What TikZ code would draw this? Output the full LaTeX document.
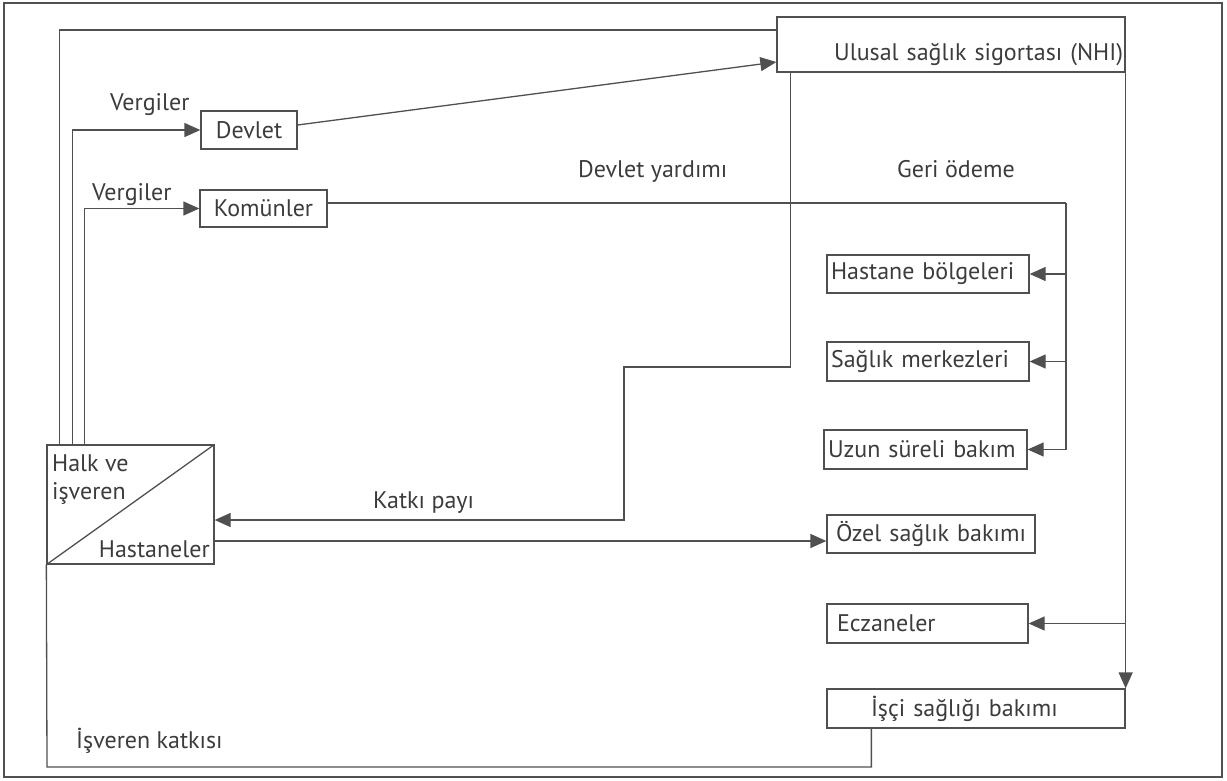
\documentclass[tikz,border=0pt]{standalone}
\usepackage{fontspec}
\setmainfont{PT Sans}
\usetikzlibrary{arrows.meta}
\definecolor{linec}{HTML}{505050}
\definecolor{textc}{HTML}{3C3C3C}
\newcommand{\dfont}{\fontsize{24}{28}\selectfont}
\begin{document}
\begin{tikzpicture}[x=1pt,y=-1pt,
  conn/.style={draw=linec, line width=1.3pt},
  arr/.style={conn, -{Triangle[length=16pt,width=14pt]}},
  box/.style={draw=linec, line width=1.3pt, inner sep=0pt, text=textc, font=\dfont, minimum height=38pt},
  lbl/.style={inner sep=0pt, text=textc, font=\dfont}]
\useasboundingbox (0,0) rectangle (1227,780);
\draw[conn] (4,3) rectangle (1222,777);

% boxes
\node[box, minimum width=348pt, minimum height=55pt, text width=344pt, inner xsep=2pt, align=right, text height=36pt, text depth=4pt] (nhi) at (951,44.5) {Ulusal sağlık sigortası (NHI)};
\node[box, minimum width=96pt] (devlet) at (249,130) {Devlet};
\node[box, minimum width=127pt, minimum height=37pt] (komun) at (263.5,208.5) {Komünler};
\node[box, text width=194pt, inner xsep=4pt, align=left] (hast) at (928,274) {\mbox{Hastane bölgeleri}};
\node[box, text width=194pt, inner xsep=4pt, align=left, minimum height=39pt] (sag) at (928,361.5) {\mbox{Sağlık merkezleri}};
\node[box, text width=195pt, inner xsep=4pt, align=left, minimum height=39pt] (uzun) at (925.5,449.5) {\mbox{Uzun süreli bakım}};
\node[box, text width=190pt, inner xsep=9pt, align=left] (ozel) at (931,534) {\mbox{Özel sağlık bakımı}};
\node[box, text width=181pt, inner xsep=10pt, align=left, minimum height=39pt] (ecz) at (927.5,623.5) {\mbox{Eczaneler}};
\node[box, text width=210pt, inner xsep=44pt, align=left, minimum height=39pt] (isci) at (976,708.5) {\mbox{İşçi sağlığı bakımı}};
\node[box, minimum width=167pt, minimum height=119pt] (halk) at (130.5,504.5) {};
\draw[conn] (halk.south west) -- (halk.north east);
\node[lbl, anchor=north west, align=left] (halktxt) at (52,454) {Halk ve\\işveren};
\node[lbl, anchor=base east] (hastxt) at (210,557) {Hastaneler};

% labels
\node[lbl, anchor=base west] (v1) at (110,110) {Vergiler};
\node[lbl, anchor=base west] (v2) at (92,200) {Vergiler};
\node[lbl, anchor=base west] (dy) at (578,177) {Devlet yardımı};
\node[lbl, anchor=base west] (go) at (897,177) {Geri ödeme};
\node[lbl, anchor=base west] (kp) at (373,508) {Katkı payı};
\node[lbl, anchor=base west] (ik) at (76,748) {İşveren katkısı};

% coordinates
\coordinate (jr) at (1066,203);
\coordinate (k1) at (624,367);
\coordinate (b1) at (47,767);

% connectors
\draw[conn] ([xshift=13pt]halk.north west) |- ([yshift=14.5pt]nhi.west);
\draw[arr] ([xshift=26pt]halk.north west) |- (devlet.west);
\draw[arr] ([xshift=38pt]halk.north west) |- (komun.west);
\draw[arr] ([yshift=5pt]devlet.east) -- ([yshift=-17.5pt]nhi.west);
\draw[conn] ([yshift=5.5pt]komun.east) -- (jr);
\draw[arr] (jr) |- (uzun.east);
\draw[arr] (jr |- hast.east) -- (hast.east);
\draw[arr] (jr |- sag.east) -- (sag.east);
\draw[arr] ([xshift=14pt]nhi.south west) |- (k1) |- ([yshift=-15.5pt]halk.east);
\draw[arr] ([yshift=-36.5pt]halk.east) -- ([yshift=-36.5pt]halk.east -| ozel.west);
\draw[arr] (nhi.south east) -- (isci.north east);
\draw[arr] (nhi.south east |- ecz.east) -- (ecz.east);
\draw[conn] ([xshift=45pt]isci.south west) |- (b1) -- (halk.south west);
\end{tikzpicture}
\end{document}
